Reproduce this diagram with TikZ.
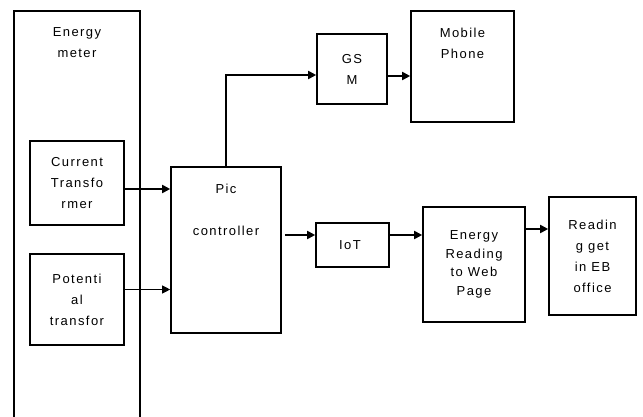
\documentclass[tikz,border=0pt]{standalone}
\usepackage{fontspec}
\setmainfont{Liberation Sans}[LetterSpace=11]
\usepackage{tikz}
\usetikzlibrary{
    arrows.meta,
    positioning,
    calc
}
\tikzstyle{block} = [
    rectangle,
    draw=black,
    line width=1.6pt,
    align=center,
    inner sep=0pt,
    font=\fontsize{13}{21}\selectfont
]
\tikzstyle{toptext} = [
    anchor=north,
    align=center,
    yshift=-14pt,
    font=\fontsize{13}{21}\selectfont
]
\tikzstyle{arrow} = [
    -{Triangle[length=8pt,width=8pt]},
    line width=1.8pt,
    draw=black
]
\tikzstyle{thinarrow} = [
    arrow,
    line width=0.8pt
]

\begin{document}
\begin{tikzpicture}[x=1pt, y=-1pt]
    \useasboundingbox (0,0) rectangle (643,417);
    \clip (0,0) rectangle (643,417);

    % Energy meter (runs off the page at the bottom)
    \node[block, minimum width=126pt, minimum height=420pt,
        label={[toptext]north:Energy\\meter}] (meter) at (77,221) {};

    % Transformers inside the meter
    \node[block, minimum width=94pt, minimum height=84pt] (ct) at (77,183) {
        Current\\Transfo\\rmer
    };
    \node[block, minimum width=94pt, minimum height=91pt] (pt) at (77,299.5) {
        Potenti\\al\\transfor
    };

    % Pic controller
    \node[block, minimum width=110pt, minimum height=166pt,
        label={[toptext]north:Pic\\[21pt]controller}] (pic) at (226,250) {};

    % GSM and mobile phone
    \node[block, minimum width=70pt, minimum height=70pt] (gsm) at (352,69) {
        GS\\M
    };
    \node[block, minimum width=103pt, minimum height=111pt,
        label={[toptext]north:Mobile\\Phone}] (mobile) at (462.5,66.5) {};

    % IoT path
    \node[block, minimum width=73pt, minimum height=44pt] (iot) at (352.5,245) {
        IoT
    };
    \node[block, minimum width=102pt, minimum height=115pt, font=\fontsize{13}{18.5}\selectfont] (web) at (474,264.5) {
        Energy\\Reading\\to Web\\Page
    };
    \node[block, minimum width=87pt, minimum height=118pt] (office) at (592.5,256) {
        Readin\\g get\\in EB\\office
    };

    % Arrows
    \draw[arrow] ([yshift=-6pt]ct.east) -- ([yshift=-6pt]ct.east -| pic.west);
    \draw[thinarrow] ([yshift=10pt]pt.east) -- ([yshift=10pt]pt.east -| pic.west);
    \draw[arrow] (pic.north) |- ([yshift=-6pt]gsm.west);
    \draw[arrow] ([yshift=-7pt]gsm.east) -- ([yshift=-7pt]gsm.east -| mobile.west);
    \draw[arrow, shorten <=3pt] ([yshift=10pt]iot.west -| pic.east) -- ([yshift=10pt]iot.west);
    \draw[arrow] ([yshift=10pt]iot.east) -- ([yshift=10pt]iot.east -| web.west);
    \draw[arrow] ([yshift=35.5pt]web.east) -- ([yshift=35.5pt]web.east -| office.west);
\end{tikzpicture}
\end{document}
